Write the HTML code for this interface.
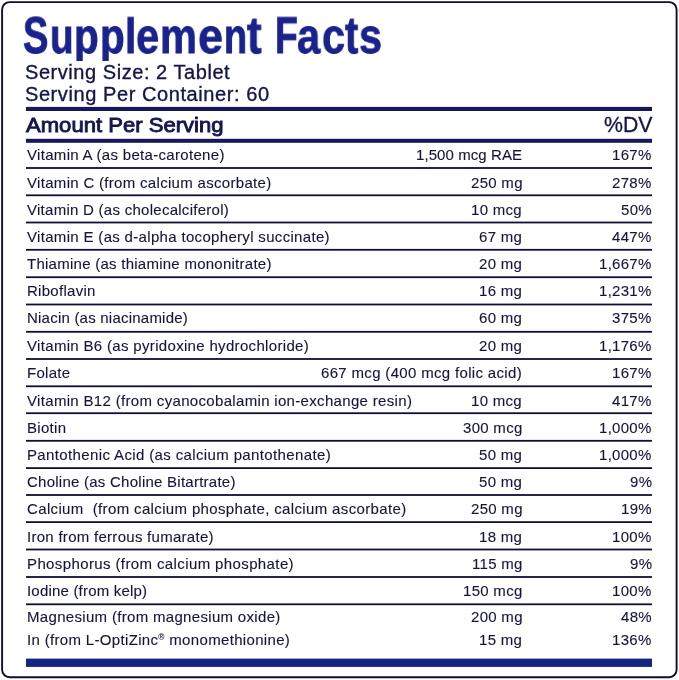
<!DOCTYPE html>
<html><head><meta charset="utf-8"><style>
html,body{margin:0;padding:0;background:#fff;}
body{width:679px;height:680px;position:relative;overflow:hidden;font-family:"Liberation Sans",sans-serif;color:#15153c;}
.box{position:absolute;left:1px;top:1px;width:672.4px;height:673.4px;border:2px solid #14143a;border-radius:8px;}
.t{position:absolute;white-space:nowrap;line-height:1;will-change:transform;-webkit-text-stroke:0.12px #15153c;}
.titlewrap{position:absolute;left:0;top:0;width:679px;height:61px;overflow:hidden;}
.tl{position:absolute;font-size:51px;font-weight:bold;line-height:1;color:#1a238c;-webkit-text-stroke:0.85px #1a238c;transform-origin:0 43px;will-change:transform;white-space:nowrap;}
.r{position:absolute;left:26px;width:626px;background:#18184a;}
.amt{text-align:right;}
sup{font-size:55%;vertical-align:0;position:relative;top:-0.55em;}
</style></head><body>
<svg width="679" height="680" style="position:absolute;left:0;top:0"><rect x="2.1" y="2.1" width="674.5" height="675.1" rx="7.5" ry="7.5" fill="none" stroke="#0e0e34" stroke-width="1.9"/></svg>

<div class="titlewrap"><div class="tl" style="left:22.65px;top:9.80px;transform:scale(0.7452,0.990);">S</div><div class="tl" style="left:49.92px;top:9.80px;transform:scale(0.7600,0.930);">u</div><div class="tl" style="left:74.22px;top:9.80px;transform:scale(0.7923,0.930);">p</div><div class="tl" style="left:100.02px;top:9.80px;transform:scale(0.7923,0.930);">p</div><div class="tl" style="left:124.70px;top:9.80px;transform:scale(0.8000,0.940);">l</div><div class="tl" style="left:136.37px;top:9.80px;transform:scale(0.8160,0.930);">e</div><div class="tl" style="left:160.25px;top:9.80px;transform:scale(0.8150,0.930);">m</div><div class="tl" style="left:198.04px;top:9.80px;transform:scale(0.8800,0.930);">e</div><div class="tl" style="left:224.08px;top:9.80px;transform:scale(0.7400,0.930);">n</div><div class="tl" style="left:247.10px;top:9.80px;transform:scale(0.8588,1.020);">t</div><div class="tl" style="left:274.50px;top:9.80px;transform:scale(0.7333,0.990);">F</div><div class="tl" style="left:297.48px;top:9.80px;transform:scale(0.8179,0.930);">a</div><div class="tl" style="left:322.28px;top:9.80px;transform:scale(0.8120,0.930);">c</div><div class="tl" style="left:345.00px;top:9.80px;transform:scale(0.7824,1.020);">t</div><div class="tl" style="left:359.38px;top:9.80px;transform:scale(0.8120,0.930);">s</div></div>
<div class="t" style="top:62.07px;font-size:20px;letter-spacing:0.55px;-webkit-text-stroke:0.35px #151548;color:#151548;left:24.8px;">Serving Size: 2 Tablet</div>
<div class="t" style="top:84.07px;font-size:20px;letter-spacing:0.58px;-webkit-text-stroke:0.35px #151548;color:#151548;left:24.8px;">Serving Per Container: 60</div>
<div class="t" style="top:114.42px;left:25.8px;font-size:21px;letter-spacing:0px;transform:scaleX(1.051);transform-origin:0 0;-webkit-text-stroke:0.9px #151550;color:#151550;">Amount Per Serving</div>
<div class="t" style="top:115.37px;font-size:21.3px;-webkit-text-stroke:0.3px #151548;color:#151548;right:26.700000000000045px;">%DV</div>
<div class="t" style="top:147.30px;font-size:15px;letter-spacing:0.312px;left:26.5px;">Vitamin A (as beta-carotene)</div>
<div class="t" style="top:147.30px;font-size:15px;letter-spacing:0.08px;right:156.91999999999996px;">1,500 mcg RAE</div>
<div class="t" style="top:147.30px;font-size:15px;letter-spacing:0.29px;right:27.210000000000036px;">167%</div>
<div class="t" style="top:175.30px;font-size:15px;letter-spacing:0.311px;left:26.5px;">Vitamin C (from calcium ascorbate)</div>
<div class="t" style="top:175.30px;font-size:15px;letter-spacing:0.29px;right:156.71000000000004px;">250 mg</div>
<div class="t" style="top:175.30px;font-size:15px;letter-spacing:0.29px;right:27.210000000000036px;">278%</div>
<div class="t" style="top:202.30px;font-size:15px;letter-spacing:0.269px;left:26.5px;">Vitamin D (as cholecalciferol)</div>
<div class="t" style="top:202.30px;font-size:15px;letter-spacing:0.29px;right:156.71000000000004px;">10 mcg</div>
<div class="t" style="top:202.30px;font-size:15px;letter-spacing:0.29px;right:27.210000000000036px;">50%</div>
<div class="t" style="top:229.30px;font-size:15px;letter-spacing:0.323px;left:26.5px;">Vitamin E (as d-alpha tocopheryl succinate)</div>
<div class="t" style="top:229.30px;font-size:15px;letter-spacing:0.29px;right:156.71000000000004px;">67 mg</div>
<div class="t" style="top:229.30px;font-size:15px;letter-spacing:0.29px;right:27.210000000000036px;">447%</div>
<div class="t" style="top:256.30px;font-size:15px;letter-spacing:0.257px;left:26.5px;">Thiamine (as thiamine mononitrate)</div>
<div class="t" style="top:256.30px;font-size:15px;letter-spacing:0.29px;right:156.71000000000004px;">20 mg</div>
<div class="t" style="top:256.30px;font-size:15px;letter-spacing:0.29px;right:27.210000000000036px;">1,667%</div>
<div class="t" style="top:283.30px;font-size:15px;letter-spacing:0.279px;left:26.5px;">Riboflavin</div>
<div class="t" style="top:283.30px;font-size:15px;letter-spacing:0.29px;right:156.71000000000004px;">16 mg</div>
<div class="t" style="top:283.30px;font-size:15px;letter-spacing:0.29px;right:27.210000000000036px;">1,231%</div>
<div class="t" style="top:310.30px;font-size:15px;letter-spacing:0.222px;left:26.5px;">Niacin (as niacinamide)</div>
<div class="t" style="top:310.30px;font-size:15px;letter-spacing:0.29px;right:156.71000000000004px;">60 mg</div>
<div class="t" style="top:310.30px;font-size:15px;letter-spacing:0.29px;right:27.210000000000036px;">375%</div>
<div class="t" style="top:338.30px;font-size:15px;letter-spacing:0.326px;left:26.5px;">Vitamin B6 (as pyridoxine hydrochloride)</div>
<div class="t" style="top:338.30px;font-size:15px;letter-spacing:0.29px;right:156.71000000000004px;">20 mg</div>
<div class="t" style="top:338.30px;font-size:15px;letter-spacing:0.29px;right:27.210000000000036px;">1,176%</div>
<div class="t" style="top:365.30px;font-size:15px;letter-spacing:0.29px;left:26.5px;">Folate</div>
<div class="t" style="top:365.30px;font-size:15px;letter-spacing:0.33px;right:156.66999999999996px;">667 mcg (400 mcg folic acid)</div>
<div class="t" style="top:365.30px;font-size:15px;letter-spacing:0.29px;right:27.210000000000036px;">167%</div>
<div class="t" style="top:393.30px;font-size:15px;letter-spacing:0.327px;left:26.5px;">Vitamin B12 (from cyanocobalamin ion-exchange resin)</div>
<div class="t" style="top:393.30px;font-size:15px;letter-spacing:0.29px;right:156.71000000000004px;">10 mcg</div>
<div class="t" style="top:393.30px;font-size:15px;letter-spacing:0.29px;right:27.210000000000036px;">417%</div>
<div class="t" style="top:420.30px;font-size:15px;letter-spacing:0.29px;left:26.5px;">Biotin</div>
<div class="t" style="top:420.30px;font-size:15px;letter-spacing:0.29px;right:156.71000000000004px;">300 mcg</div>
<div class="t" style="top:420.30px;font-size:15px;letter-spacing:0.29px;right:27.210000000000036px;">1,000%</div>
<div class="t" style="top:447.30px;font-size:15px;letter-spacing:0.37px;left:26.5px;">Pantothenic Acid (as calcium pantothenate)</div>
<div class="t" style="top:447.30px;font-size:15px;letter-spacing:0.29px;right:156.71000000000004px;">50 mg</div>
<div class="t" style="top:447.30px;font-size:15px;letter-spacing:0.29px;right:27.210000000000036px;">1,000%</div>
<div class="t" style="top:474.30px;font-size:15px;letter-spacing:0.25px;left:26.5px;">Choline (as Choline Bitartrate)</div>
<div class="t" style="top:474.30px;font-size:15px;letter-spacing:0.29px;right:156.71000000000004px;">50 mg</div>
<div class="t" style="top:474.30px;font-size:15px;letter-spacing:0.29px;right:27.210000000000036px;">9%</div>
<div class="t" style="top:501.30px;font-size:15px;letter-spacing:0.357px;left:26.5px;">Calcium &nbsp;(from calcium phosphate, calcium ascorbate)</div>
<div class="t" style="top:501.30px;font-size:15px;letter-spacing:0.29px;right:156.71000000000004px;">250 mg</div>
<div class="t" style="top:501.30px;font-size:15px;letter-spacing:0.29px;right:27.210000000000036px;">19%</div>
<div class="t" style="top:529.30px;font-size:15px;letter-spacing:0.282px;left:26.5px;">Iron from ferrous fumarate)</div>
<div class="t" style="top:529.30px;font-size:15px;letter-spacing:0.29px;right:156.71000000000004px;">18 mg</div>
<div class="t" style="top:529.30px;font-size:15px;letter-spacing:0.29px;right:27.210000000000036px;">100%</div>
<div class="t" style="top:556.30px;font-size:15px;letter-spacing:0.387px;left:26.5px;">Phosphorus (from calcium phosphate)</div>
<div class="t" style="top:556.30px;font-size:15px;letter-spacing:0.29px;right:156.71000000000004px;">115 mg</div>
<div class="t" style="top:556.30px;font-size:15px;letter-spacing:0.29px;right:27.210000000000036px;">9%</div>
<div class="t" style="top:583.30px;font-size:15px;letter-spacing:0.196px;left:26.5px;">Iodine (from kelp)</div>
<div class="t" style="top:583.30px;font-size:15px;letter-spacing:0.29px;right:156.71000000000004px;">150 mcg</div>
<div class="t" style="top:583.30px;font-size:15px;letter-spacing:0.29px;right:27.210000000000036px;">100%</div>
<div class="t" style="top:609.30px;font-size:15px;letter-spacing:0.319px;left:26.5px;">Magnesium (from magnesium oxide)</div>
<div class="t" style="top:609.30px;font-size:15px;letter-spacing:0.29px;right:156.71000000000004px;">200 mg</div>
<div class="t" style="top:609.30px;font-size:15px;letter-spacing:0.29px;right:27.210000000000036px;">48%</div>
<div class="t" style="top:632.30px;font-size:15px;letter-spacing:0.333px;left:26.5px;">In (from L-OptiZinc<sup>®</sup> monomethionine)</div>
<div class="t" style="top:632.30px;font-size:15px;letter-spacing:0.29px;right:156.71000000000004px;">15 mg</div>
<div class="t" style="top:632.30px;font-size:15px;letter-spacing:0.29px;right:27.210000000000036px;">136%</div>
<svg width="679" height="680" style="position:absolute;left:0;top:0"><rect x="26" y="167.10" width="626" height="1.8" fill="#0f0f3a"/><rect x="26" y="194.40" width="626" height="1.8" fill="#0f0f3a"/><rect x="26" y="221.60" width="626" height="1.8" fill="#0f0f3a"/><rect x="26" y="248.90" width="626" height="1.8" fill="#0f0f3a"/><rect x="26" y="276.30" width="626" height="1.8" fill="#0f0f3a"/><rect x="26" y="303.60" width="626" height="1.8" fill="#0f0f3a"/><rect x="26" y="330.90" width="626" height="1.8" fill="#0f0f3a"/><rect x="26" y="358.10" width="626" height="1.8" fill="#0f0f3a"/><rect x="26" y="385.40" width="626" height="1.8" fill="#0f0f3a"/><rect x="26" y="412.30" width="626" height="1.8" fill="#0f0f3a"/><rect x="26" y="439.90" width="626" height="1.8" fill="#0f0f3a"/><rect x="26" y="467.20" width="626" height="1.8" fill="#0f0f3a"/><rect x="26" y="494.10" width="626" height="1.8" fill="#0f0f3a"/><rect x="26" y="521.20" width="626" height="1.8" fill="#0f0f3a"/><rect x="26" y="548.60" width="626" height="1.8" fill="#0f0f3a"/><rect x="26" y="576.10" width="626" height="1.8" fill="#0f0f3a"/><rect x="26" y="603.40" width="626" height="1.8" fill="#0f0f3a"/><rect x="26" y="658.6" width="626" height="8.3" fill="#14267f"/><rect x="26" y="106.9" width="626" height="4.1" fill="#15185a"/><rect x="26" y="138.8" width="626" height="4.0" fill="#15185a"/></svg>
</body></html>
